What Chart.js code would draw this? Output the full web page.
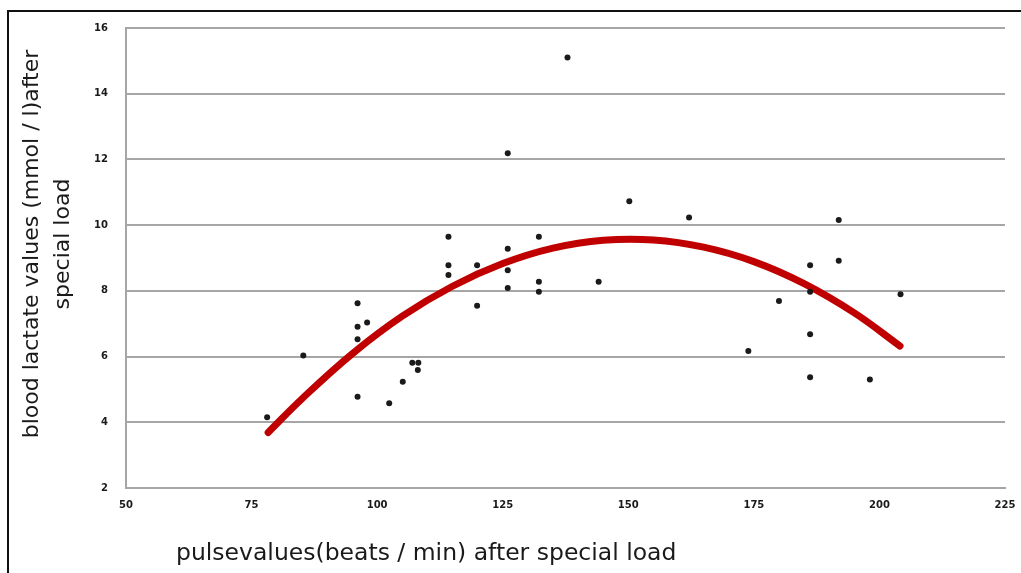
<!DOCTYPE html>
<html>
<head>
<meta charset="utf-8">
<script src="https://cdn.jsdelivr.net/npm/chart.js@4/dist/chart.umd.min.js"></script>
<style>
  html, body { margin: 0; padding: 0; background: #fff; }
  #wrap { position: relative; width: 1021px; height: 573px; overflow: hidden; }
  #frame { position: absolute; left: 7px; top: 10px; width: 1100px; height: 700px;
           border-left: 2px solid #111; border-top: 2px solid #111; }
  canvas { position: absolute; left: 0; top: 0; }
</style>
</head>
<body>
<div id="wrap">
  <div id="frame"></div>
  <canvas id="c" width="1021" height="573"></canvas>
</div>
<script>
// ---- data ----
const pulseValues = [78.1, 85.3, 96.1, 96.1, 98.0, 96.1, 96.1, 102.4, 105.1, 107.0, 108.2, 108.1,
  114.2, 114.2, 114.2, 119.9, 119.9, 126.0, 126.0, 126.0, 126.0, 132.2, 132.2, 132.2, 137.9,
  144.1, 150.2, 162.1, 173.9, 180.0, 186.2, 186.2, 186.2, 186.2, 191.9, 191.9, 198.1, 204.2];
const lactateValues = [4.15, 6.03, 7.62, 6.91, 7.04, 6.53, 4.78, 4.58, 5.23, 5.81, 5.81, 5.59,
  9.65, 8.78, 8.48, 8.78, 7.55, 12.19, 9.28, 8.63, 8.09, 9.65, 8.28, 7.97, 15.10,
  8.28, 10.73, 10.23, 6.17, 7.69, 8.78, 7.97, 6.68, 5.37, 10.16, 8.92, 5.30, 7.90];
const trendPulse = [78.3, 85, 95, 105, 115, 125, 135, 145, 155, 165, 175, 185, 195, 204.1];
const trendLactate = [3.69, 4.71, 6.08, 7.23, 8.14, 8.83, 9.30, 9.54, 9.55, 9.33, 8.89, 8.22, 7.33, 6.32];
const xTicks = [50, 75, 100, 125, 150, 175, 200, 225];
const yTicks = [2, 4, 6, 8, 10, 12, 14, 16];
const xTitle = 'pulsevalues(beats / min) after special load';
const yTitle = ['blood lactate values (mmol / l)after', 'special load'];

const points = pulseValues.map((x, i) => ({ x: x, y: lactateValues[i] }));
const trend = trendPulse.map((x, i) => ({ x: x, y: trendLactate[i] }));

const axisTitles = {
  id: 'axisTitles',
  afterDraw(chart) {
    const ctx = chart.ctx;
    ctx.save();
    ctx.fillStyle = '#1a1a1a';
    ctx.font = '22px "DejaVu Sans"';
    ctx.textBaseline = 'middle';
    ctx.textAlign = 'center';
    const cy = 244;
    [32, 63].forEach((x, i) => {
      ctx.save();
      ctx.translate(x, cy);
      ctx.rotate(-Math.PI / 2);
      ctx.fillText(yTitle[i], 0, 0);
      ctx.restore();
    });
    ctx.font = '23.5px "DejaVu Sans"';
    ctx.textAlign = 'left';
    ctx.textBaseline = 'alphabetic';
    ctx.fillText(xTitle, 176, 560);
    ctx.restore();
  }
};

new Chart(document.getElementById('c'), {
  type: 'scatter',
  data: {
    datasets: [
      {
        data: points,
        backgroundColor: '#1a1a1a',
        borderColor: '#1a1a1a',
        pointRadius: 3,
        pointBorderWidth: 0,
        order: 0
      },
      {
        data: trend,
        showLine: true,
        borderColor: '#c00000',
        borderWidth: 7,
        borderCapStyle: 'round',
        borderJoinStyle: 'round',
        tension: 0.4,
        pointRadius: 0,
        order: 1
      }
    ]
  },
  options: {
    responsive: false,
    animation: false,
    devicePixelRatio: 1,
    layout: { padding: { left: 0, top: 28, right: 16, bottom: 0 } },
    plugins: { legend: { display: false }, tooltip: { enabled: false } },
    scales: {
      x: {
        type: 'linear',
        min: 50, max: 225,
        afterBuildTicks: (s) => { s.ticks = xTicks.map(v => ({ value: v })); },
        afterFit: (s) => { s.height = 85; s.paddingLeft = 0; s.paddingRight = 0; },
        grid: { display: false, drawTicks: false },
        border: { display: true, color: '#a6a6a6', width: 2 },
        ticks: { padding: 11, color: '#1a1a1a', font: { family: 'DejaVu Sans', size: 10, weight: 'bold' } }
      },
      y: {
        type: 'linear',
        min: 2, max: 16,
        afterBuildTicks: (s) => { s.ticks = yTicks.map(v => ({ value: v })); },
        afterFit: (s) => { s.width = 126; s.paddingTop = 0; s.paddingBottom = 0; },
        grid: { color: '#a6a6a6', lineWidth: 2, drawTicks: false },
        border: { display: true, color: '#a6a6a6', width: 2 },
        ticks: { padding: 18, color: '#1a1a1a', font: { family: 'DejaVu Sans', size: 10, weight: 'bold' } }
      }
    }
  },
  plugins: [axisTitles]
});
</script>
</body>
</html>
